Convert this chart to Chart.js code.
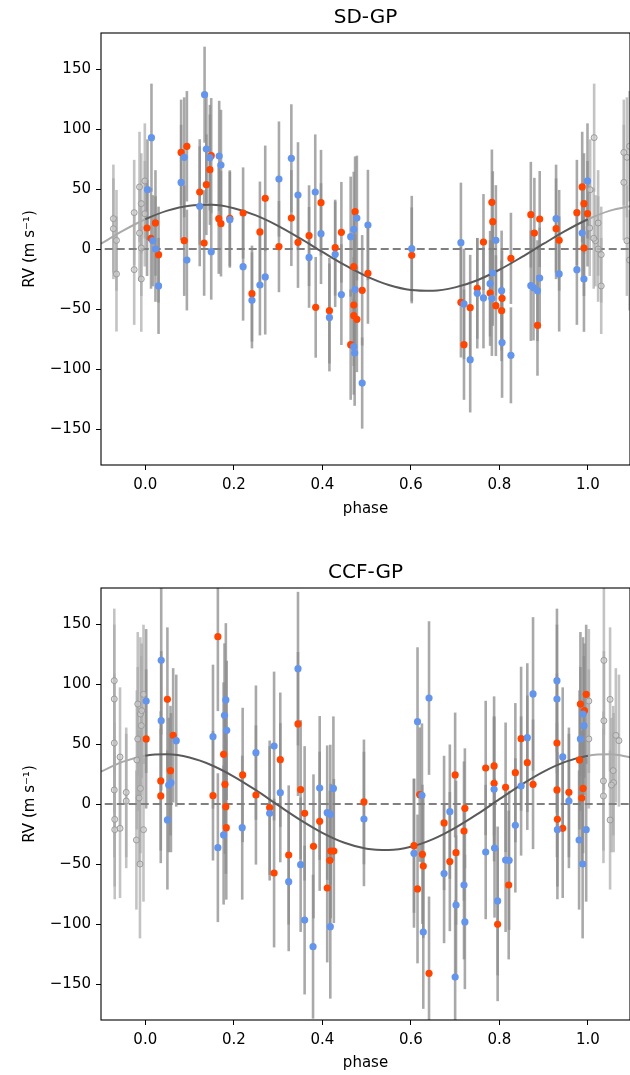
<!DOCTYPE html>
<html><head><meta charset="utf-8">
<script src="https://cdn.jsdelivr.net/npm/chart.js@4.4.1/dist/chart.umd.min.js"></script>
<style>
html,body{margin:0;padding:0;background:#fff;width:630px;height:1075px;overflow:hidden}
.wrap{position:absolute;left:0;width:630px}
</style></head><body>
<div class="wrap" style="top:0;height:540px"><canvas id="c1" width="630" height="540"></canvas></div>
<div class="wrap" style="top:540px;height:535px"><canvas id="c2" width="630" height="535"></canvas></div>
<script>
// ---------- tick labels / axes ----------
const X_TICKS = [0.0, 0.2, 0.4, 0.6, 0.8, 1.0];
const Y_TICKS = [-150, -100, -50, 0, 50, 100, 150];
const X_MIN = -0.1, X_MAX = 1.095, Y_MIN = -180, Y_MAX = 180;

// ---------- model curve ----------
const CURVE_PHASE = [-0.10,-0.05,0.00,0.05,0.10,0.15,0.20,0.25,0.30,0.35,0.40,0.45,0.50,0.55,0.60,0.65,0.70,0.75,0.80,0.85,0.90,0.95,1.00,1.05,1.10];
const SD_CURVE  = [4.4,15.3,24.8,32.0,36.1,36.8,34.0,28.0,19.3,8.8,-2.4,-13.3,-22.8,-30.0,-34.1,-34.8,-32.0,-26.0,-17.3,-6.8,4.4,15.3,24.8,32.0,36.1];
const CCF_CURVE = [27.0,35.3,40.3,41.4,38.7,32.3,22.9,11.5,-1.0,-13.2,-24.0,-32.3,-37.3,-38.4,-35.7,-29.3,-19.9,-8.5,4.0,16.2,27.0,35.3,40.3,41.4,38.7];

// ---------- SD-GP ----------
const SD_BLUE_PHASE = [0.014,0.005,0.134,0.138,0.088,0.081,0.123,0.146,0.167,0.171,0.191,0.017,0.023,0.149,0.302,0.030,0.094,0.221,0.241,0.259,0.271,0.330,0.345,0.384,0.397,0.370,0.429,0.464,0.471,0.478,0.503,0.602,0.443,0.416,0.474,0.471,0.473,0.490,0.713,0.792,0.928,0.987,0.999,0.785,0.779,0.750,0.764,0.783,0.805,0.720,0.734,0.806,0.826,0.891,0.871,0.877,0.886,0.935,0.975,0.991];
const SD_BLUE_RV = [92.8,49.4,128.6,83.3,76.4,55.5,35.6,76.1,77.5,70.0,24.4,6.9,0.0,-2.2,58.3,-30.8,-9.2,-14.7,-42.8,-30.0,-23.3,75.6,45.0,47.5,12.8,-7.0,-4.4,10.3,16.4,25.8,20.0,0.3,-38.0,-57.0,-33.9,-81.4,-86.7,-111.7,5.3,7.2,25.3,13.3,56.7,-20.0,-28.9,-36.9,-40.8,-41.1,-34.7,-45.8,-92.2,-78.0,-88.6,-24.2,-30.6,-32.2,-34.7,-20.8,-17.2,-25.0];
const SD_BLUE_ERR = [45,42,40,45,50,48,50,44,46,46,40,38,44,40,48,40,42,45,40,42,48,45,44,48,42,42,44,50,48,52,46,44,42,45,46,40,44,38,50,46,45,40,48,44,44,46,42,48,50,46,44,46,40,42,46,44,42,48,46,44];

const SD_RED_PHASE = [0.081,0.094,0.149,0.146,0.138,0.123,0.166,0.171,0.191,0.221,0.271,0.259,0.004,0.023,0.013,0.030,0.088,0.133,0.241,0.302,0.330,0.345,0.370,0.397,0.429,0.443,0.474,0.602,0.471,0.503,0.490,0.385,0.416,0.471,0.471,0.478,0.464,0.764,0.783,0.785,0.826,0.871,0.879,0.891,0.928,0.935,0.975,0.987,0.991,0.999,0.991,0.750,0.779,0.713,0.734,0.792,0.806,0.805,0.720,0.886];
const SD_RED_RV = [80.5,85.6,77.8,66.1,53.6,47.5,25.3,21.1,25.6,30.0,42.2,14.2,17.5,21.7,8.9,-4.7,6.9,5.0,-37.2,2.0,25.8,5.6,11.1,38.6,1.1,13.9,31.1,-5.3,-14.7,-20.3,-34.4,-48.6,-51.4,-46.7,-55.6,-58.6,-79.7,5.8,38.9,22.8,-7.8,28.6,13.3,25.0,16.9,7.2,30.3,51.7,37.8,29.4,0.8,-32.8,-36.7,-44.4,-48.9,-47.2,-41.1,-51.4,-79.7,-63.6];
const SD_RED_ERR = [44,46,48,46,42,44,46,44,40,38,44,42,40,44,42,40,46,44,40,38,40,38,42,44,40,42,46,40,44,42,46,42,44,40,42,44,46,40,44,42,38,44,46,40,42,42,44,46,42,44,40,42,44,46,44,42,40,42,46,42];

// ---------- CCF-GP ----------
const CCF_BLUE_PHASE = [0.002,0.036,0.036,0.070,0.058,0.053,0.153,0.182,0.179,0.184,0.250,0.291,0.050,0.164,0.177,0.219,0.281,0.305,0.345,0.394,0.425,0.615,0.641,0.625,0.324,0.351,0.360,0.379,0.411,0.418,0.418,0.494,0.607,0.628,0.675,0.688,0.788,0.849,0.863,0.876,0.930,0.930,0.943,0.957,0.989,0.991,0.983,0.720,0.702,0.722,0.700,0.769,0.789,0.814,0.822,0.796,0.836,0.931,0.996,0.980,0.988];
const CCF_BLUE_RV = [85.8,119.7,69.4,52.8,17.8,15.8,56.1,86.7,73.9,61.4,42.8,48.3,-13.3,-36.4,-25.8,-19.7,-7.8,9.4,112.8,13.3,13.0,68.6,88.3,7.2,-64.7,-50.6,-96.7,-118.9,-7.2,-8.6,-102.2,-12.5,-41.1,-106.7,-58.0,-6.4,12.2,15.0,55.3,91.7,102.8,87.5,39.2,2.5,75.0,65.3,54.2,-67.5,-84.2,-98.3,-144.2,-40.0,-36.7,-46.7,-46.9,-80.8,-17.8,-21.4,-21.4,-30.0,-50.0];
const CCF_BLUE_ERR = [60,62,58,55,58,56,60,64,60,58,56,62,58,62,58,60,56,58,64,60,60,62,64,60,58,56,62,60,56,58,60,56,62,64,58,56,60,58,62,64,60,62,58,56,64,58,60,62,58,56,64,56,58,60,58,62,56,58,60,58,62];

const CCF_RED_PHASE = [0.002,0.050,0.063,0.057,0.035,0.035,0.164,0.177,0.220,0.180,0.182,0.153,0.250,0.281,0.183,0.291,0.305,0.345,0.351,0.494,0.620,0.324,0.360,0.380,0.394,0.419,0.426,0.417,0.411,0.607,0.626,0.628,0.615,0.641,0.675,0.688,0.700,0.722,0.769,0.788,0.788,0.814,0.836,0.849,0.863,0.876,0.930,0.930,0.957,0.983,0.996,0.992,0.981,0.989,0.986,0.720,0.702,0.821,0.796,0.931,0.943];
const CCF_RED_RV = [54.2,87.2,57.2,27.8,19.2,6.7,139.4,41.4,24.2,16.4,-2.2,6.9,7.5,-3.1,-19.7,-57.5,36.9,66.7,11.9,1.7,7.8,-42.5,-7.8,-35.3,-14.4,-39.2,-39.2,-46.9,-70.0,-34.7,-41.9,-51.7,-70.8,-141.1,-15.8,-48.0,24.2,-3.6,30.0,31.7,17.2,13.9,26.1,54.4,34.4,16.4,50.8,11.7,9.7,83.3,91.4,77.8,36.7,13.0,5.0,-22.5,-40.6,-67.5,-100.3,-12.8,-20.3];
const CCF_RED_ERR = [58,60,56,54,58,56,62,60,56,58,56,54,58,56,60,62,56,60,58,52,56,58,56,60,58,56,60,58,62,56,58,60,62,64,56,58,52,50,56,58,56,54,58,60,56,54,58,56,54,60,58,56,58,54,56,58,60,62,64,56,58];

// ---------- helpers ----------
const FONT = "'DejaVu Sans', 'Liberation Sans', sans-serif";
function pts(ph, rv){ return ph.map((p,i)=>({x:p, y:rv[i]})); }
// phase-wrapped copies (the grey points) of the measured points within the plotted window
function wrapped(lists){
  const d=[], e=[];
  lists.forEach(([ph,rv,er])=>{
    ph.forEach((p,i)=>{
      if (p-1 >= -0.1) { d.push({x:p-1,y:rv[i]}); e.push(er[i]); }
      if (p+1 <= 1.1)  { d.push({x:p+1,y:rv[i]}); e.push(er[i]); }
    });
  });
  return {d,e};
}

const errPlugin = {
  id:'errbars',
  beforeDatasetsDraw(chart){
    const {ctx, chartArea:a, scales:{x,y}} = chart;
    ctx.save();
    ctx.beginPath(); ctx.rect(a.left,a.top,a.right-a.left,a.bottom-a.top); ctx.clip();
    chart.data.datasets.slice().reverse().forEach(ds=>{
      if(!ds.errs) return;
      ctx.strokeStyle = ds.errColor; ctx.lineWidth = 2.6; ctx.lineCap='butt';
      ds.data.forEach((p,i)=>{
        const px = x.getPixelForValue(p.x);
        ctx.beginPath();
        ctx.moveTo(px, y.getPixelForValue(p.y - ds.errs[i]));
        ctx.lineTo(px, y.getPixelForValue(p.y + ds.errs[i]));
        ctx.stroke();
      });
    });
    ctx.restore();
  }
};
const framePlugin = {
  id:'frame',
  afterDraw(chart){
    const {ctx, chartArea:a} = chart;
    ctx.save(); ctx.strokeStyle='#000'; ctx.lineWidth=1.1;
    ctx.strokeRect(a.left, a.top, a.right-a.left, a.bottom-a.top);
    // axes title, centred over the plotting area
    ctx.fillStyle='#000'; ctx.font = "20px " + FONT;
    ctx.textAlign='center'; ctx.textBaseline='middle';
    ctx.fillText(chart.options.plotTitle, (a.left+a.right)/2, a.top - 15);
    ctx.restore();
  }
};

function makeChart(id, title, blue, red, curve, lay){
  const g = wrapped([[blue[0],blue[1],blue[2]],[red[0],red[1],red[2]]]);
  const minus = v => (v<0 ? '\u2212'+Math.abs(v) : ''+v);
  return new Chart(document.getElementById(id), {
    type:'scatter',
    data:{ datasets:[
      {label:'blue', data:pts(blue[0],blue[1]), errs:blue[2], errColor:'rgba(140,140,140,0.75)',
       backgroundColor:'#6495ED', borderWidth:0, pointRadius:3.6, pointHoverRadius:3.6},
      {label:'red', data:pts(red[0],red[1]), errs:red[2], errColor:'rgba(140,140,140,0.75)',
       backgroundColor:'#FF4500', borderWidth:0, pointRadius:3.6, pointHoverRadius:3.6},
      {label:'wrapped', data:g.d, errs:g.e, errColor:'rgba(170,170,170,0.7)',
       backgroundColor:'rgba(205,205,205,0.6)', borderColor:'rgba(150,150,150,0.9)', borderWidth:1, pointRadius:3},
      {label:'model', data:pts(CURVE_PHASE, curve), showLine:true, pointRadius:0, borderWidth:2,
       cubicInterpolationMode:'monotone', borderColor:'#555',
       segment:{borderColor: c => (c.p0.parsed.x < 0 || c.p1.parsed.x > 1) ? '#aaaaaa' : '#5a5a5a'}},
      {label:'zero', data:[{x:-0.2,y:0},{x:1.2,y:0}], showLine:true, pointRadius:0, borderWidth:2,
       borderColor:'#808080', borderDash:[8,4]}
    ]},
    plugins:[errPlugin, framePlugin],
    options:{
      plotTitle: title,
      responsive:false, animation:false, events:[],
      layout:{autoPadding:false, padding:{top:lay.top, bottom:lay.bottom, left:0, right:0}},
      plugins:{ legend:{display:false}, tooltip:{enabled:false}, title:{display:false} },
      scales:{
        x:{type:'linear', min:X_MIN, max:X_MAX,
           afterBuildTicks: s => { s.ticks = X_TICKS.map(v=>({value:v})); },
           afterFit: s => { s.height = lay.xh; s.paddingLeft = 0; s.paddingRight = 0; },
           ticks:{autoSkip:false, maxRotation:0, color:'#000', padding:6, font:{family:FONT,size:15},
                  callback: v => Number(v).toFixed(1)},
           grid:{drawOnChartArea:false, drawTicks:true, tickLength:5, color:'#000', lineWidth:1},
           border:{display:false},
           title:{display:true, text:'phase', color:'#000', font:{family:FONT,size:15}, padding:{top:0,bottom:lay.tb}}},
        y:{type:'linear', min:Y_MIN, max:Y_MAX,
           afterBuildTicks: s => { s.ticks = Y_TICKS.map(v=>({value:v})); },
           afterFit: s => { s.width = 101; s.paddingTop = 0; s.paddingBottom = 0; },
           ticks:{autoSkip:false, color:'#000', padding:5, font:{family:FONT,size:15}, callback: v => minus(v)},
           grid:{drawOnChartArea:false, drawTicks:true, tickLength:5, color:'#000', lineWidth:1},
           border:{display:false},
           title:{display:true, text:'RV (m s\u207B\u00B9)', color:'#000', font:{family:FONT,size:15}, padding:{top:21,bottom:0}}}
      }
    }
  });
}

makeChart('c1','SD-GP',[SD_BLUE_PHASE,SD_BLUE_RV,SD_BLUE_ERR],[SD_RED_PHASE,SD_RED_RV,SD_RED_ERR],SD_CURVE,{top:33,bottom:18,xh:57,tb:4});
makeChart('c2','CCF-GP',[CCF_BLUE_PHASE,CCF_BLUE_RV,CCF_BLUE_ERR],[CCF_RED_PHASE,CCF_RED_RV,CCF_RED_ERR],CCF_CURVE,{top:48,bottom:0,xh:55,tb:3});
</script>
</body></html>
